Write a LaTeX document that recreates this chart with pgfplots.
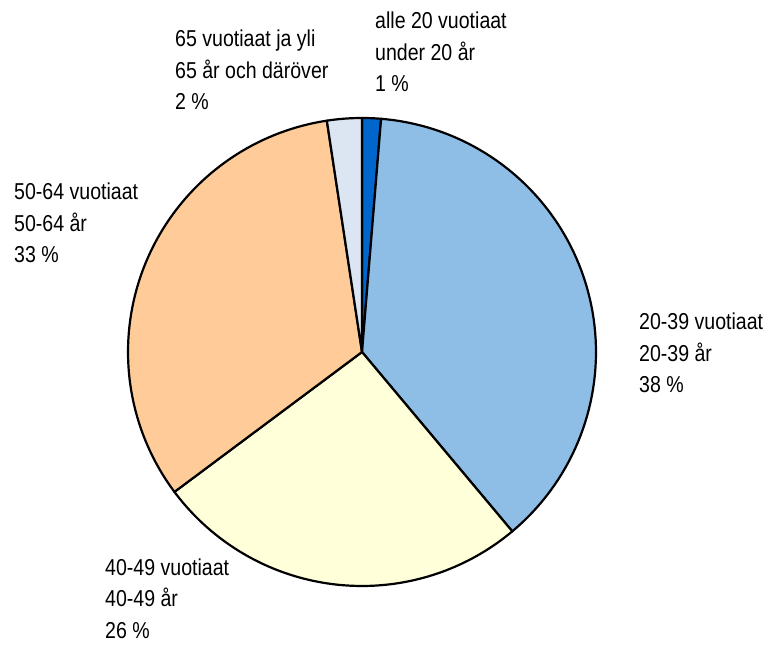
\documentclass[border=0pt]{standalone}
\usepackage{fontspec}
\setmainfont{Liberation Sans}[FakeStretch=0.85]
\usepackage{pgfplots}
\pgfplotsset{compat=1.18}
\definecolor{cA}{HTML}{0066CC}
\definecolor{cB}{HTML}{8EBDE6}
\definecolor{cC}{HTML}{FFFFD9}
\definecolor{cD}{HTML}{FFCC99}
\definecolor{cE}{HTML}{DCE6F2}
% anchor = baseline of the LAST line of each label
\tikzset{lbl/.style={anchor=base west, align=left, font=\fontsize{23}{31.5}\selectfont, inner sep=0pt}}
% shares in percent, clockwise from 12 o'clock
\def\vA{1.3}\def\vB{37.6}\def\vC{25.9}\def\vD{32.8}\def\vE{2.4}
\begin{document}
\begin{tikzpicture}
\pgfmathsetmacro\aA{0}
\pgfmathsetmacro\aB{\aA+3.6*\vA}
\pgfmathsetmacro\aC{\aB+3.6*\vB}
\pgfmathsetmacro\aD{\aC+3.6*\vC}
\pgfmathsetmacro\aE{\aD+3.6*\vD}
\pgfmathsetmacro\aF{\aE+3.6*\vE}
\begin{axis}[
  scale only axis, width=769pt, height=646pt,
  xmin=0, xmax=769, ymin=0, ymax=646,
  hide axis, clip=false,
  every axis plot/.append style={draw=black, line width=2.2pt, line join=round, samples=80, variable=\t},
]
\path (rel axis cs:0,0) rectangle (rel axis cs:1,1);
\addplot[fill=cA, domain=\aA:\aB] ({362+234*sin(t)},{294+234*cos(t)}) -- (axis cs:362,294) -- cycle;
\addplot[fill=cB, domain=\aB:\aC] ({362+234*sin(t)},{294+234*cos(t)}) -- (axis cs:362,294) -- cycle;
\addplot[fill=cC, domain=\aC:\aD] ({362+234*sin(t)},{294+234*cos(t)}) -- (axis cs:362,294) -- cycle;
\addplot[fill=cD, domain=\aD:\aE] ({362+234*sin(t)},{294+234*cos(t)}) -- (axis cs:362,294) -- cycle;
\addplot[fill=cE, domain=\aE:\aF] ({362+234*sin(t)},{294+234*cos(t)}) -- (axis cs:362,294) -- cycle;
\node[lbl] at (axis cs:375,554) {alle 20 vuotiaat\\under 20 år\\1 \%};
\node[lbl] at (axis cs:175,536) {65 vuotiaat ja yli\\65 år och däröver\\2 \%};
\node[lbl] at (axis cs:14,383) {50-64 vuotiaat\\50-64 år\\33 \%};
\node[lbl] at (axis cs:639,253) {20-39 vuotiaat\\20-39 år\\38 \%};
\node[lbl] at (axis cs:105,8) {40-49 vuotiaat\\40-49 år\\26 \%};
\end{axis}
\end{tikzpicture}
\end{document}
